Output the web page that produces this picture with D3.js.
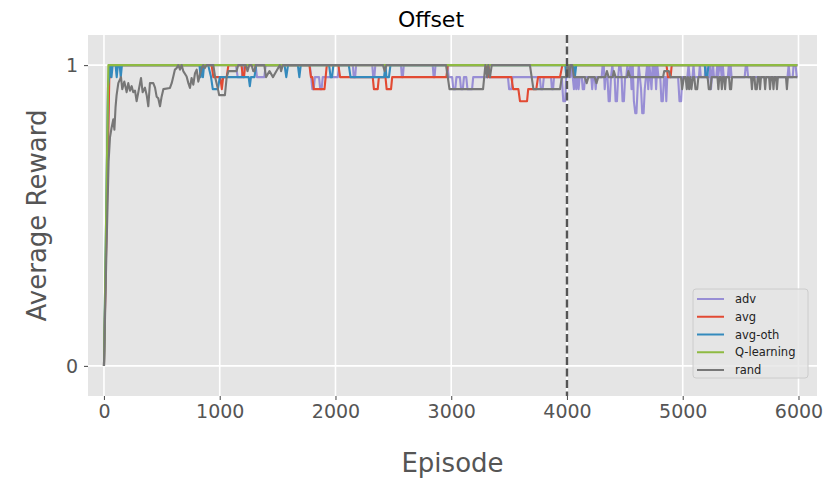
<!DOCTYPE html>
<html>
<head>
<meta charset="utf-8">
<script src="https://cdn.jsdelivr.net/npm/d3@7"></script>
<style>
  html, body { margin: 0; padding: 0; background: #ffffff; }
  svg { display: block; }
  text { font-family: "DejaVu Sans", sans-serif; }
</style>
</head>
<body>
<script>
// Episode ticks and reward ticks
const xTicks = [0, 1000, 2000, 3000, 4000, 5000, 6000];
const yTicks = [0, 1];
const splitEpisode = 4000;

// Series names and colours (ggplot cycle)
const seriesNames = ["adv", "avg", "avg-oth", "Q-learning", "rand"];
const seriesColors = ["#988ED5", "#E24A33", "#348ABD", "#8EBA42", "#777777"];

// [episode, average reward] points for each agent
const advPts = [
  [0,0],[45,1],[1140,1],[1155,0.96],[1190,0.96],[1205,1],[1310,1],[1322,0.96],[1385,0.96],[1397,1],
  [1778,1],[1790,0.96],[1800,0.92],[1812,0.92],[1822,0.96],[1858,0.96],[1868,0.92],[1880,0.92],[1890,0.96],
  [2020,0.96],[2032,1],[2150,1],[2158,0.96],[2170,0.96],[2178,1],[2318,1],[2326,0.96],[2336,0.96],[2344,1],
  [2566,1],[2574,0.96],[2582,0.96],[2590,1],[2840,1],[2848,0.96],[2856,0.96],[2864,1],[2966,1],[2978,0.96],
  [3008,0.96],[3018,0.92],[3035,0.92],[3045,0.96],[3075,0.96],[3085,0.92],[3100,0.92],[3110,0.96],[3130,0.96],
  [3140,0.92],[3180,0.92],[3190,0.96],[3490,0.96],[3500,0.92],[3520,0.92],[3530,0.96],[3765,0.96],[3775,0.92],
  [3790,0.92],[3800,0.96],[3862,0.96],[3870,0.92],[3880,0.92],[3888,0.96],[3955,0.96],[3968,0.88],[3985,0.88],
  [3998,1],[4008,0.96],[4018,1],[4030,0.96],[4040,1],[4050,0.96],[4060,0.92],[4070,0.96],[4080,0.92],[4090,0.96],
  [4100,0.92],[4110,0.96],[4128,0.96],[4136,0.92],[4148,0.92],[4156,0.96],[4210,0.96],[4218,0.92],[4226,0.96],
  [4240,0.96],[4248,0.92],[4256,0.96],[4300,0.96],[4308,1],[4318,1],[4326,0.92],[4334,0.96],[4350,0.96],
  [4360,0.88],[4370,0.88],[4380,0.96],[4392,1],[4402,0.96],[4412,0.96],[4420,0.88],[4432,0.88],[4442,0.96],
  [4452,1],[4462,1],[4472,0.96],[4480,0.88],[4492,0.88],[4502,0.96],[4512,0.96],[4522,1],[4532,0.96],[4548,1],
  [4558,0.92],[4568,1],[4578,0.88],[4590,0.84],[4600,0.84],[4610,0.92],[4620,1],[4630,0.96],[4640,0.92],
  [4650,0.84],[4662,0.84],[4672,0.92],[4682,0.96],[4692,1],[4702,0.92],[4712,1],[4722,0.96],[4730,0.92],
  [4740,1],[4750,0.96],[4760,1],[4770,0.92],[4780,1],[4790,0.96],[4806,0.96],[4816,0.88],[4828,0.88],
  [4838,0.96],[4850,0.96],[4858,0.88],[4866,0.96],[4960,0.96],[4972,0.88],[4986,0.88],[4996,0.96],
  [5040,0.96],[5050,1],[5060,0.96],[5085,0.96],[5093,1],[5101,0.96],[5140,0.96],[5148,1],[5156,0.96],
  [5190,0.96],[5198,1],[5206,0.96],[5230,0.96],[5238,1],[5244,0.92],[5252,0.96],[5262,1],[5270,0.96],
  [5290,0.96],[5298,1],[5306,0.96],[5318,1],[5328,1],[5336,0.96],[5346,1],[5354,0.96],[5390,0.96],[5398,1],
  [5406,0.96],[5414,1],[5422,0.96],[5535,0.96],[5545,1],[5555,1],[5565,0.96],[5905,0.96],[5915,1],
  [5925,0.96],[5950,0.96],[5958,1],[5975,1],[5985,0.96],[5990,0.96]
];

const avgPts = [
  [0,0],[48,1],[56,0.96],[64,1],[930,1],[945,0.96],[1005,0.96],[1018,0.92],[1030,0.96],[1060,0.96],[1075,1],
  [1188,1],[1200,0.96],[1210,0.96],[1220,1],[1775,1],[1788,0.96],[1800,0.96],[1812,0.92],[1905,0.92],[1925,1],
  [2025,1],[2040,0.96],[2322,0.96],[2332,0.92],[2365,0.92],[2375,0.96],[2432,0.96],[2442,0.92],[2480,0.92],
  [2490,0.96],[2958,0.96],[2970,1],[3300,1],[3312,0.96],[3322,1],[3330,0.96],[3520,0.96],[3535,0.92],
  [3580,0.92],[3594,0.88],[3655,0.88],[3665,0.92],[3735,0.92],[3750,0.96],[3940,0.96],[3960,1],
  [4860,1],[4872,0.96],[4895,0.96],[4905,1],[5990,1]
];

const avgOthPts = [
  [0,0],[35,0.93],[45,0.96],[55,1],[65,0.96],[75,1],[100,1],[110,0.96],[120,1],[135,1],[145,0.96],[155,1],
  [825,1],[835,0.96],[845,1],[855,0.96],[865,1],[900,1],[925,0.96],[940,0.92],[985,0.92],[1000,0.96],
  [1250,0.96],[1260,0.93],[1270,0.96],[1300,0.96],[1315,1],[1560,1],[1575,0.96],[1590,1],[1675,1],
  [1688,0.96],[1700,1],[1945,1],[1958,0.96],[1970,0.96],[1982,1],[2115,1],[2130,0.96],[2420,0.96],
  [2432,1],[2440,0.96],[2462,0.96],[2475,1],[3985,1],[3995,0.96],[4005,1],[4058,1],[4068,0.96],[4080,1],
  [5190,1],[5200,0.96],[5212,0.96],[5222,1],[5990,1]
];

const qPts = [[0,0],[38,1],[5990,1]];

const randPts = [
  [0,0],[20,0.36],[40,0.68],[52,0.76],[65,0.79],[81,0.82],[90,0.785],[100,0.86],[109,0.9],[124,0.94],[147,0.96],
  [158,0.92],[176,0.945],[196,0.91],[210,0.94],[225,0.915],[239,0.93],[253,0.91],[268,0.915],[282,0.88],
  [297,0.91],[320,0.957],[334,0.91],[354,0.925],[369,0.9],[383,0.863],[397,0.94],[426,0.94],[441,0.925],
  [455,0.895],[469,0.89],[484,0.863],[498,0.895],[513,0.92],[570,0.924],[585,0.94],[599,0.962],[613,0.985],
  [628,0.99],[642,1],[657,0.985],[671,1],[685,0.98],[714,0.962],[729,0.94],[743,0.924],[757,0.957],
  [772,0.935],[786,0.972],[801,0.985],[815,0.945],[829,0.968],[844,0.99],[858,1],[872,0.99],[887,1],
  [945,1],[960,0.96],[985,0.92],[995,0.9],[1045,0.9],[1060,0.96],[1075,0.98],[1145,0.98],[1160,1],
  [1225,1],[1240,0.98],[1255,1],[1275,1],[1290,0.98],[1300,0.98],[1310,1],[1385,1],[1400,0.96],[1430,0.98],
  [1460,0.96],[1490,0.98],[1520,1],[1530,0.98],[1545,1],[2410,1],[2425,0.98],[2440,1],[2955,1],[2970,0.96],
  [2985,0.92],[3275,0.92],[3295,1],[3310,0.96],[3320,1],[3335,0.96],[3350,1],[3680,1],[3695,0.96],
  [3710,0.92],[3940,0.92],[3955,0.96],[3975,0.96],[3990,0.96],[4005,1],[4020,0.96],[4030,1],[4045,1],
  [4060,0.96],[4155,0.96],[4170,0.94],[4185,0.96],[4240,0.96],[4255,0.94],[4270,0.96],[4330,0.96],
  [4345,0.98],[4360,0.96],[4395,0.96],[4405,0.98],[4420,0.96],[4520,0.96],[4530,0.98],[4545,0.96],
  [4830,0.96],[4840,0.98],[4880,0.98],[4895,0.96],[4985,0.96],[4995,0.92],[5010,0.96],[5025,0.96],
  [5035,0.92],[5045,0.96],[5055,0.92],[5065,0.96],[5075,0.92],[5088,0.96],[5100,0.96],[5110,0.92],
  [5125,0.92],[5135,0.96],[5215,0.96],[5225,0.92],[5240,0.92],[5250,0.96],[5300,0.96],[5308,0.92],
  [5316,0.96],[5330,0.96],[5338,0.92],[5346,0.96],[5358,0.96],[5366,0.92],[5374,0.96],[5400,0.96],
  [5408,0.92],[5418,0.92],[5426,0.96],[5590,0.96],[5598,0.92],[5606,0.96],[5620,0.96],[5628,0.92],
  [5640,0.92],[5648,0.96],[5660,0.96],[5668,0.92],[5676,0.96],[5704,0.96],[5712,0.92],[5720,0.96],
  [5746,0.96],[5754,0.92],[5762,0.96],[5776,0.96],[5784,0.92],[5792,0.96],[5806,0.96],[5814,0.92],
  [5822,0.96],[5892,0.96],[5900,0.92],[5908,0.96],[5990,0.96]
];

const seriesPts = [advPts, avgPts, avgOthPts, qPts, randPts];

// Layout
const W = 826, H = 483;
const plot = { left: 88, right: 817, top: 35, bottom: 396 };
const titleX = 431; // figure-level title, centred on the full figure

const svg = d3.select("body").append("svg")
  .attr("width", W).attr("height", H);

const x = d3.scaleLinear().domain([-138, 6160]).range([plot.left, plot.right]);
const y = d3.scaleLinear().domain([-0.1, 1.1]).range([plot.bottom, plot.top]);

// Axes background
svg.append("rect")
  .attr("x", plot.left).attr("y", plot.top)
  .attr("width", plot.right - plot.left).attr("height", plot.bottom - plot.top)
  .attr("fill", "#E5E5E5");

// Grid
const grid = svg.append("g");
grid.selectAll("line.vx").data(xTicks).enter().append("line")
  .attr("x1", d => x(d)).attr("x2", d => x(d))
  .attr("y1", plot.top).attr("y2", plot.bottom)
  .attr("stroke", "#ffffff").attr("stroke-width", 1.6);
grid.selectAll("line.hy").data(yTicks).enter().append("line")
  .attr("y1", d => y(d)).attr("y2", d => y(d))
  .attr("x1", plot.left).attr("x2", plot.right)
  .attr("stroke", "#ffffff").attr("stroke-width", 1.6);

// Axes with tick labels
const xAxis = d3.axisBottom(x).tickValues(xTicks).tickFormat(d3.format("d")).tickSize(4).tickPadding(5);
const yAxis = d3.axisLeft(y).tickValues(yTicks).tickFormat(d3.format("d")).tickSize(4).tickPadding(6);

const gx = svg.append("g").attr("transform", `translate(0,${plot.bottom})`).call(xAxis);
const gy = svg.append("g").attr("transform", `translate(${plot.left},0)`).call(yAxis);
[gx, gy].forEach(g => {
  g.select(".domain").remove();
  g.selectAll(".tick line").attr("stroke", "#555555").attr("stroke-width", 1.1);
  g.selectAll(".tick text").attr("fill", "#555555")
    .style("font-family", "'DejaVu Sans', sans-serif").style("font-size", "19px");
});

// Lines
const line = d3.line().x(d => x(d[0])).y(d => y(d[1]));
const lines = svg.append("g");
seriesPts.forEach((pts, i) => {
  lines.append("path")
    .datum(pts)
    .attr("d", line)
    .attr("fill", "none")
    .attr("stroke", seriesColors[i])
    .attr("stroke-width", 2.1)
    .attr("stroke-linejoin", "round");
});

// Split marker
svg.append("line")
  .attr("x1", x(splitEpisode)).attr("x2", x(splitEpisode))
  .attr("y1", plot.top).attr("y2", plot.bottom)
  .attr("stroke", "#555555").attr("stroke-width", 2.4)
  .attr("stroke-dasharray", "8,3.5");

// Title and axis labels
svg.append("text")
  .attr("x", titleX).attr("y", 27)
  .attr("text-anchor", "middle").attr("fill", "#000000")
  .style("font-size", "22px").text("Offset");

svg.append("text")
  .attr("x", (plot.left + plot.right) / 2).attr("y", 472)
  .attr("text-anchor", "middle").attr("fill", "#555555")
  .style("font-size", "26px").text("Episode");

svg.append("text")
  .attr("transform", `translate(46,${(plot.top + plot.bottom) / 2}) rotate(-90)`)
  .attr("text-anchor", "middle").attr("fill", "#555555")
  .style("font-size", "26px").text("Average Reward");

// Legend
const lg = svg.append("g").attr("transform", "translate(693,289)");
lg.append("rect")
  .attr("width", 115).attr("height", 89).attr("rx", 3)
  .attr("fill", "#E5E5E5").attr("fill-opacity", 0.8)
  .attr("stroke", "#CCCCCC").attr("stroke-width", 1);
seriesNames.forEach((name, i) => {
  const yy = 10 + i * 17.75;
  lg.append("line")
    .attr("x1", 4).attr("x2", 31).attr("y1", yy).attr("y2", yy)
    .attr("stroke", seriesColors[i]).attr("stroke-width", 2);
  lg.append("text")
    .attr("x", 42).attr("y", yy).attr("dy", "0.35em")
    .attr("fill", "#222222").style("font-size", "11.5px").text(name);
});
</script>
</body>
</html>
